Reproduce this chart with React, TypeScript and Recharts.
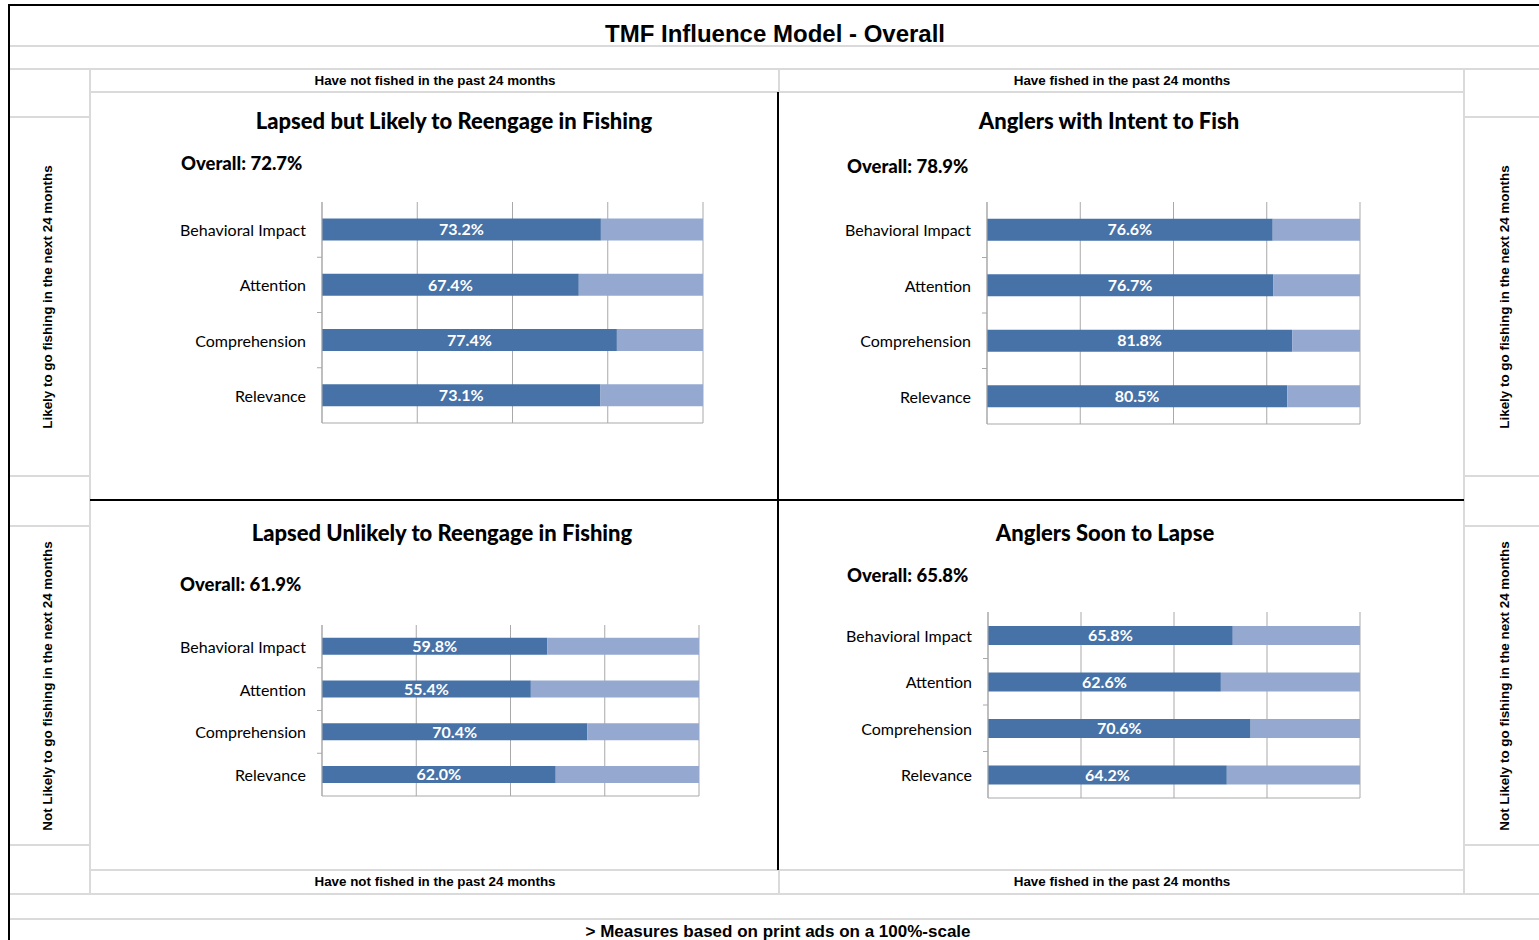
import React from "react";
import { Bar, BarChart, CartesianGrid, LabelList, XAxis, YAxis } from "recharts";

const categories = ["Behavioral Impact", "Attention", "Comprehension", "Relevance"];
const lapsedLikely = [73.2, 67.4, 77.4, 73.1];
const intentToFish = [76.6, 76.7, 81.8, 80.5];
const lapsedUnlikely = [59.8, 55.4, 70.4, 62.0];
const soonToLapse = [65.8, 62.6, 70.6, 64.2];
const overallScores = [72.7, 78.9, 61.9, 65.8];
const panelTitles = [
  "Lapsed but Likely to Reengage in Fishing",
  "Anglers with Intent to Fish",
  "Lapsed Unlikely to Reengage in Fishing",
  "Anglers Soon to Lapse",
];
const xTicks = [0, 25, 50, 75, 100];

const DARK = "#4672A7";
const LIGHT = "#95A9D0";
const GRID = "#A9A9A9";
const CELL = "#DADADA";
const AXIS_W = 170;
const CALIBRI = "Lato, 'Open Sans', sans-serif";
const ARIAL = "'Liberation Sans', Arial, sans-serif";

const toRows = (values: number[]) =>
  categories.map((name, i) => ({ name, value: values[i], rest: +(100 - values[i]).toFixed(1) }));

function HLine({ x1, x2, y, color = CELL, w = 2 }: any) {
  return <div style={{ position: "absolute", left: x1, top: y - w / 2, width: x2 - x1, height: w, background: color }} />;
}
function VLine({ x, y1, y2, color = CELL, w = 2 }: any) {
  return <div style={{ position: "absolute", left: x - w / 2, top: y1, width: w, height: y2 - y1, background: color }} />;
}
function Txt({ x, y, children, size, font = ARIAL, align = "center", weight = 700 }: any) {
  const tx = align === "center" ? "-50%" : "0";
  return (
    <div
      style={{
        position: "absolute",
        left: x,
        top: y,
        transform: `translate(${tx}, -50%)`,
        whiteSpace: "nowrap",
        fontFamily: font,
        fontSize: size,
        fontWeight: weight,
        color: "#000",
        lineHeight: 1,
      }}
    >
      {children}
    </div>
  );
}
function SideLabel({ x, y, children }: any) {
  return (
    <div
      style={{
        position: "absolute",
        left: x,
        top: y,
        transform: "translate(-50%, -50%) rotate(-90deg)",
        whiteSpace: "nowrap",
        fontFamily: ARIAL,
        fontSize: 13.4,
        fontWeight: 700,
        lineHeight: 1,
      }}
    >
      {children}
    </div>
  );
}

const NoTick = () => null;

function Panel({ values, plot }: { values: number[]; plot: number[] }) {
  const [left, top, right, bottom] = plot;
  const mTop = 6;
  const mRight = 6;
  const mBottom = 3;
  const plotH = bottom - top;
  const band = plotH / categories.length;
  const width = right - left + AXIS_W + mRight;
  const height = plotH + mTop + mBottom + 1;

  const CatTick = (props: any) => {
    const { y, payload, index } = props;
    return (
      <g>
        <text
          x={AXIS_W - 16}
          y={y}
          textAnchor="end"
          dominantBaseline="central"
          fontFamily={CALIBRI}
          fontSize={16}
          fill="#000"
        >
          {payload.value}
        </text>
        {index > 0 && <line x1={AXIS_W - 5} x2={AXIS_W} y1={y - band / 2} y2={y - band / 2} stroke={GRID} />}
      </g>
    );
  };

  return (
    <div style={{ position: "absolute", left: left - AXIS_W, top: top - mTop }}>
      <BarChart
        width={width}
        height={height}
        data={toRows(values)}
        layout="vertical"
        margin={{ top: mTop, right: mRight, bottom: mBottom, left: 0 }}
        barCategoryGap="30%"
      >
        <CartesianGrid horizontal={false} stroke={GRID} />
        <XAxis
          type="number"
          domain={[0, 100]}
          ticks={xTicks}
          tick={NoTick}
          tickLine={false}
          height={1}
          axisLine={{ stroke: GRID }}
        />
        <YAxis
          type="category"
          dataKey="name"
          width={AXIS_W}
          tick={<CatTick />}
          tickLine={false}
          axisLine={{ stroke: GRID }}
          interval={0}
        />
        <Bar dataKey="value" stackId="a" fill={DARK} isAnimationActive={false}>
          <LabelList
            dataKey="value"
            position="center"
            fill="#fff"
            fontFamily={CALIBRI}
            fontWeight={700}
            fontSize={16}
            formatter={(v: any) => `${Number(v).toFixed(1)}%`}
          />
        </Bar>
        <Bar dataKey="rest" stackId="a" fill={LIGHT} isAnimationActive={false} />
      </BarChart>
    </div>
  );
}

export default function App() {
  return (
    <div
      style={{
        position: "absolute",
        left: 0,
        top: 0,
        width: 1539,
        height: 940,
        overflow: "hidden",
        background: "#fff",
      }}
    >
      {/* spreadsheet cell borders */}
      <HLine x1={9} x2={1539} y={46} />
      <HLine x1={9} x2={1539} y={69} />
      <HLine x1={9} x2={1539} y={894} />
      <HLine x1={9} x2={1539} y={919} />
      <VLine x={90} y1={69} y2={894} />
      <VLine x={1464} y1={69} y2={894} />
      {[117, 476, 526, 845].map((y) => (
        <React.Fragment key={y}>
          <HLine x1={9} x2={90} y={y} />
          <HLine x1={1464} x2={1539} y={y} />
        </React.Fragment>
      ))}
      <HLine x1={90} x2={1464} y={92} />
      <HLine x1={90} x2={1464} y={870} />
      <VLine x={779} y1={69} y2={92} />
      <VLine x={779} y1={870} y2={894} />

      {/* black frame and quadrant dividers */}
      <HLine x1={8} x2={1539} y={5} color="#000" w={2} />
      <VLine x={9} y1={5} y2={940} color="#000" w={2} />
      <VLine x={778} y1={92} y2={870} color="#000" w={2.5} />
      <HLine x1={90} x2={1464} y={500} color="#000" w={2.5} />

      <Txt x={775} y={34} size={24}>TMF Influence Model - Overall</Txt>
      <Txt x={435} y={81} size={13.4}>Have not fished in the past 24 months</Txt>
      <Txt x={1122} y={81} size={13.4}>Have fished in the past 24 months</Txt>
      <Txt x={435} y={882} size={13.4}>Have not fished in the past 24 months</Txt>
      <Txt x={1122} y={882} size={13.4}>Have fished in the past 24 months</Txt>
      <Txt x={778} y={931} size={17}>&gt; Measures based on print ads on a 100%-scale</Txt>

      <SideLabel x={48} y={297}>Likely to go fishing in the next 24 months</SideLabel>
      <SideLabel x={48} y={686}>Not Likely to go fishing in the next 24 months</SideLabel>
      <SideLabel x={1505} y={297}>Likely to go fishing in the next 24 months</SideLabel>
      <SideLabel x={1505} y={686}>Not Likely to go fishing in the next 24 months</SideLabel>

      <Txt x={454} y={121} size={22} font={CALIBRI} weight={900}>{panelTitles[0]}</Txt>
      <Txt x={1109} y={121} size={22} font={CALIBRI} weight={900}>{panelTitles[1]}</Txt>
      <Txt x={442} y={533} size={22} font={CALIBRI} weight={900}>{panelTitles[2]}</Txt>
      <Txt x={1105} y={533} size={22} font={CALIBRI} weight={900}>{panelTitles[3]}</Txt>

      <Txt x={181} y={163} size={18.5} font={CALIBRI} align="left" weight={900}>Overall: {overallScores[0].toFixed(1)}%</Txt>
      <Txt x={847} y={166} size={18.5} font={CALIBRI} align="left" weight={900}>Overall: {overallScores[1].toFixed(1)}%</Txt>
      <Txt x={180} y={584} size={18.5} font={CALIBRI} align="left" weight={900}>Overall: {overallScores[2].toFixed(1)}%</Txt>
      <Txt x={847} y={575} size={18.5} font={CALIBRI} align="left" weight={900}>Overall: {overallScores[3].toFixed(1)}%</Txt>

      <Panel values={lapsedLikely} plot={[322, 202, 703, 423]} />
      <Panel values={intentToFish} plot={[987, 202, 1360, 424]} />
      <Panel values={lapsedUnlikely} plot={[322, 625, 699, 796]} />
      <Panel values={soonToLapse} plot={[988, 612, 1360, 798]} />
    </div>
  );
}
